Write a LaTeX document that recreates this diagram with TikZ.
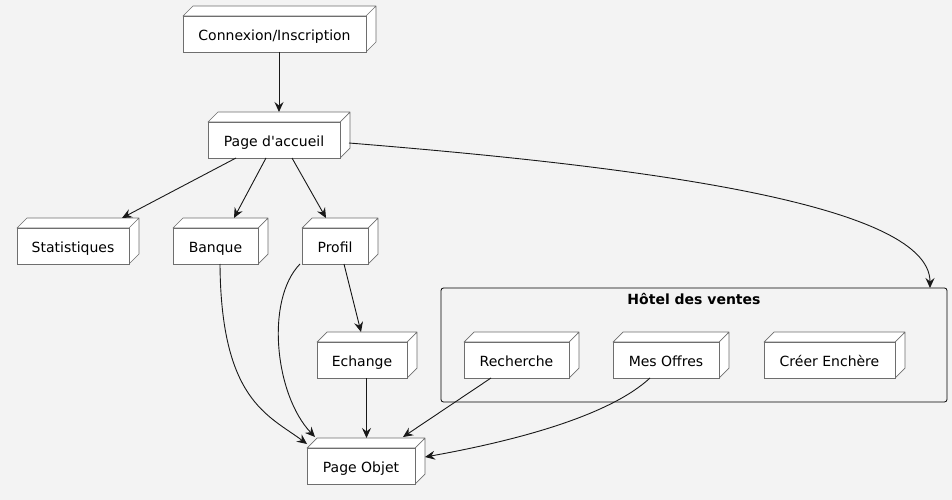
\documentclass[tikz,border=0pt]{standalone}
\usepackage{fontspec}
\setmainfont{DejaVu Sans}
\usetikzlibrary{arrows.meta,calc,positioning}
\definecolor{bgcol}{HTML}{F3F3F3}
\definecolor{nodeline}{HTML}{6E6E6E}
\definecolor{edgeline}{HTML}{181818}
\tikzset{
	deploy/.style={
		x=1pt, y=-1pt,
		every node/.style={font=\fontsize{14}{17}\selectfont},
		ar/.style={draw=edgeline, line width=.9pt, -{Stealth[length=10pt,width=9pt,inset=3.5pt]}}
		},
	node depth/.store in=\ddepth,
	node depth=10pt,
	dnode/.style={
		draw=nodeline, fill=white, line width=.7pt, minimum width=#1, minimum height=36pt,
		inner sep=0pt, outer sep=0pt, text height=13.4pt, text depth=0pt,
		prefix after command={\pgfextra{\let\fixname\tikzlastnode}},
		append after command={\pgfextra{\draw[draw=nodeline, fill=white, line width=.7pt, line join=round]
			(\fixname.north west) -- ++(\ddepth,\ddepth) -- ($(\fixname.north east)+(\ddepth,\ddepth)$)
			-- ($(\fixname.south east)+(\ddepth,\ddepth)$) -- (\fixname.south east)
			-- (\fixname.north east) -- cycle
			(\fixname.north east) -- ++(\ddepth,\ddepth);
		}}
	},
	cluster/.style={draw=black, line width=.8pt, rounded corners=2.5pt,
		minimum width=506pt, minimum height=114pt, inner sep=0pt, outer sep=0pt},
	cluster name/.style={font=\fontsize{14}{17}\selectfont\bfseries, anchor=base, inner sep=0pt}
}

\begin{document}
\begin{tikzpicture}[deploy]
   \path[use as bounding box, fill=bgcol] (0,0) rectangle (952,500);
   \node[dnode=183pt] (conn) at (274.5,34) {Connexion/Inscription};
   \node[dnode=132pt] (accueil) at (274,140) {Page d\textquotesingle accueil};
   \node[dnode=112pt] (stat) at (73,246) {Statistiques};
   \node[dnode=85pt] (banque) at (215.5,246) {Banque};
   \node[dnode=66pt] (profil) at (335,246) {Profil};
   \node[dnode=90pt] (echange) at (362,360) {Echange};
   \node[dnode=108pt] (pobjet) at (361,466) {Page Objet};

   \node[cluster] (hotel) at (694,345) {};
   \node[cluster name] (hoteltitle) at (694,304) {Hôtel des ventes};
   \node[dnode=105pt] (recherche) at (516.5,360) {Recherche};
   \node[dnode=106pt] (offres) at (666,360) {Mes Offres};
   \node[dnode=131pt] (creer) at (829.5,360) {Créer Enchère};

   \draw[ar] ([xshift=4.5pt]conn.south) -- ([xshift=5pt,yshift=10pt]accueil.north);
   \draw[ar] ([xshift=-38pt]accueil.south) -- ([xshift=49pt,yshift=10pt]stat.north);
   \draw[ar] ([xshift=-8pt]accueil.south) -- ([xshift=18.5pt,yshift=10pt]banque.north);
   \draw[ar] ([xshift=18pt]accueil.south) -- ([xshift=-9pt,yshift=10pt]profil.north);
   \draw[ar] ([xshift=9pt,yshift=-3pt]accueil.east) .. controls +(271pt,-22pt) and +(0pt,87pt) .. ([xshift=-17pt]hotel.north east);
   \draw[ar] ([xshift=4.5pt]banque.south) .. controls +(1pt,-136pt) and +(-39pt,29pt) .. ([yshift=4pt]pobjet.north west);
   \draw[ar] ([xshift=-2pt]profil.south west) .. controls +(-35pt,-36pt) and +(-40pt,42pt) .. ([xshift=8pt,yshift=11pt]pobjet.north west);
   \draw[ar] ([xshift=9pt]profil.south) -- ([xshift=-1pt,yshift=10pt]echange.north);
   \draw[ar] ([xshift=4.5pt]echange.south) -- ([xshift=5.5pt,yshift=10pt]pobjet.north);
   \draw[ar] ([xshift=-25.5pt]recherche.south) -- ([xshift=-12pt,yshift=11pt]pobjet.north east);
   \draw[ar] ([xshift=-16pt]offres.south) .. controls +(-40pt,-37pt) and +(95pt,17pt) .. ([xshift=10pt,yshift=9pt]pobjet.east);
\end{tikzpicture}
\end{document}
